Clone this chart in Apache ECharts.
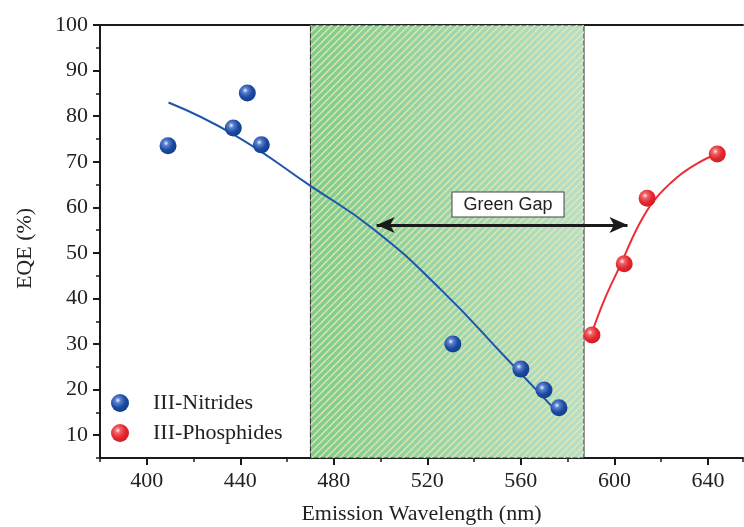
<!DOCTYPE html>
<html><head><meta charset="utf-8">
<script src="https://cdn.jsdelivr.net/npm/echarts@6/dist/echarts.min.js"></script>
<style>html,body{margin:0;padding:0;background:#fff}#c{width:744px;height:527px}</style>
</head><body><div id="c"></div>
<script>
// ---- data ----
const nitrideX = [409.1, 437.0, 443.0, 449.0, 530.9, 560.0, 569.9, 576.3];
const nitrideY = [73.5, 77.4, 85.1, 73.7, 30.0, 24.5, 19.9, 16.0];
const phosphideX = [590.4, 604.2, 614.0, 644.0];
const phosphideY = [32.0, 47.6, 62.0, 71.7];
// fit curves
const nitrideFitX = [409.3, 437.0, 470.0, 497.0, 525.7, 554.3, 575.7];
const nitrideFitY = [83.0, 76.0, 64.7, 55.2, 42.0, 26.6, 15.0];
const phosphideFitX = [590.3, 595.7, 602.9, 610.0, 617.1, 627.1, 635.7, 643.6];
const phosphideFitY = [32.4, 39.7, 47.7, 55.7, 61.6, 66.7, 69.7, 71.7];
const gapRange = [470, 587];
const arrowX = [498.3, 605.6];
const arrowY = 56.1;
const gapLabel = 'Green Gap';
const gapLabelPos = [554.5, 60.6];
const xTicks = [400, 440, 480, 520, 560, 600, 640];
const yTicks = [10, 20, 30, 40, 50, 60, 70, 80, 90, 100];
const seriesNames = ['III-Nitrides', 'III-Phosphides'];

const zip = (a, b) => a.map((v, i) => [v, b[i]]);

// hatch pattern
const pc = document.createElement('canvas');
pc.width = 7; pc.height = 7;
const g = pc.getContext('2d');
g.strokeStyle = 'rgba(240,230,165,0.95)';
g.lineWidth = 1.3;
g.beginPath();
g.moveTo(-1, 8); g.lineTo(8, -1);
g.moveTo(-1, 1); g.lineTo(1, -1);
g.moveTo(6, 8); g.lineTo(8, 6);
g.stroke();

const sphere = (c0, c1, c2, c3) => ({
  type: 'radial', x: 0.38, y: 0.35, r: 0.7,
  colorStops: [{offset: 0, color: c0}, {offset: 0.22, color: c1}, {offset: 0.6, color: c2}, {offset: 1, color: c3}]
});
const blueBall = sphere('#eef0ff', '#5b7fd0', '#1a4aa0', '#133c8a');
const redBall = sphere('#fff0f0', '#f06468', '#e5262e', '#c81e25');

const font = 'Liberation Serif';
const chart = echarts.init(document.getElementById('c'), null, {renderer: 'canvas'});
chart.setOption({
  animation: false,
  grid: {left: 100, right: 1, top: 25, bottom: 69, containLabel: false, outerBoundsMode: 'none'},
  xAxis: [
    {type: 'value', min: 380, max: 655, position: 'bottom',
     name: 'Emission Wavelength (nm)', nameLocation: 'middle', nameGap: 45,
     nameTextStyle: {fontFamily: font, fontSize: 22, color: '#222'},
     axisLine: {lineStyle: {color: '#1a1a1a', width: 2}},
     axisTick: {customValues: xTicks, length: 7, lineStyle: {color: '#1a1a1a', width: 2}},
     axisLabel: {customValues: xTicks, margin: 12, fontFamily: font, fontSize: 22, color: '#222'},
     splitLine: {show: false}},
    {type: 'value', min: 380, max: 655, interval: 20, position: 'bottom', offset: 0,
     axisLine: {show: false},
     axisTick: {length: 4, lineStyle: {color: '#1a1a1a', width: 1.5}},
     axisLabel: {show: false}, splitLine: {show: false}},
    {type: 'value', min: 380, max: 655, position: 'top',
     axisLine: {lineStyle: {color: '#1a1a1a', width: 2}},
     axisTick: {show: false}, axisLabel: {show: false}, splitLine: {show: false}}
  ],
  yAxis: [
    {type: 'value', min: 5, max: 100, position: 'left',
     name: 'EQE (%)', nameLocation: 'middle', nameGap: 64, nameRotate: 90,
     nameTextStyle: {fontFamily: font, fontSize: 22, color: '#222', padding: [0, 14, 0, 0]},
     axisLine: {lineStyle: {color: '#1a1a1a', width: 2}},
     axisTick: {customValues: yTicks, length: 7, lineStyle: {color: '#1a1a1a', width: 2}},
     axisLabel: {customValues: yTicks, margin: 12, fontFamily: font, fontSize: 22, color: '#222'},
     splitLine: {show: false}},
    {type: 'value', min: 5, max: 100, interval: 5, position: 'left', offset: 0,
     axisLine: {show: false},
     axisTick: {length: 4, lineStyle: {color: '#1a1a1a', width: 1.5}},
     axisLabel: {show: false}, splitLine: {show: false}}
  ],
  legend: {
    left: 106, top: 387, orient: 'vertical', itemGap: 8,
    itemWidth: 18, itemHeight: 18, icon: 'circle',
    textStyle: {fontFamily: font, fontSize: 22, color: '#222', padding: [0, 0, 0, 19], lineHeight: 22},
    data: seriesNames
  },
  series: [
    {type: 'line', data: [], z: 1, silent: true,
     markArea: {silent: true,
       itemStyle: {color: {type: 'linear', x: 0, y: 0, x2: 1, y2: 0,
         colorStops: [{offset: 0, color: '#7ccd90'}, {offset: 1, color: '#b5e0cc'}]},
         borderColor: '#2a2a2a', borderWidth: 1},
       data: [[{xAxis: gapRange[0], yAxis: 5}, {xAxis: gapRange[1], yAxis: 100}]]}},
    {type: 'line', data: [], z: 2, silent: true,
     markArea: {silent: true,
       itemStyle: {color: {image: pc, repeat: 'repeat'}},
       data: [[{xAxis: gapRange[0], yAxis: 5}, {xAxis: gapRange[1], yAxis: 100}]]}},
    {type: 'line', name: 'fitN', data: zip(nitrideFitX, nitrideFitY), smooth: 0.5,
     showSymbol: false, z: 3, lineStyle: {color: '#1d55aa', width: 2}, itemStyle: {color: '#1d55aa'}},
    {type: 'line', name: 'fitP', data: zip(phosphideFitX, phosphideFitY), smooth: 0.4,
     showSymbol: false, z: 3, lineStyle: {color: '#ec2f36', width: 2}, itemStyle: {color: '#ec2f36'}},
    {type: 'line', data: [], z: 4, silent: true,
     markLine: {silent: true, symbol: ['arrow', 'arrow'], symbolSize: [12, 18],
       lineStyle: {color: '#1a1a1a', width: 3, type: 'solid'},
       label: {show: false},
       data: [[{coord: [arrowX[0], arrowY]}, {coord: [arrowX[1], arrowY]}]]},
     markPoint: {silent: true, symbol: 'rect', symbolSize: 0,
       label: {show: true, position: 'inside', formatter: gapLabel,
         fontFamily: 'Liberation Sans', fontSize: 18, color: '#222',
         backgroundColor: '#fff', borderColor: '#444', borderWidth: 1, padding: [3, 11, 3, 11]},
       data: [{coord: gapLabelPos}]}},
    {type: 'scatter', name: seriesNames[0], data: zip(nitrideX, nitrideY), symbolSize: 17, z: 5,
     itemStyle: {color: blueBall, opacity: 1}},
    {type: 'scatter', name: seriesNames[1], data: zip(phosphideX, phosphideY), symbolSize: 17, z: 5,
     itemStyle: {color: redBall, opacity: 1}}
  ]
});
</script></body></html>
